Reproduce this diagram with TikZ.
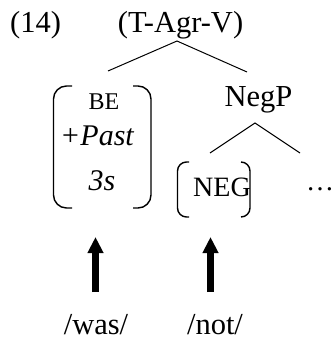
\documentclass[tikz,border=0pt]{standalone}
\usepackage{fontspec}
\setmainfont{Liberation Serif}
\usetikzlibrary{arrows.meta}
\tikzset{
  lbl/.style={inner sep=0pt, anchor=base},
  big/.style={font=\fontsize{30.5}{32}\selectfont},
  mid/.style={font=\fontsize{28}{30}\selectfont},
  small/.style={font=\fontsize{24}{26}\selectfont},
  ital/.style={font=\fontsize{30}{32}\selectfont\itshape},
  branch/.style={line width=1pt},
  brack/.style={line width=1.4pt, rounded corners=13pt},
  up/.style={line width=6.5pt, -{Triangle[width=15pt,length=16pt]}},
}
\begin{document}
\begin{tikzpicture}[x=1pt,y=-1pt]
\useasboundingbox (0,0) rectangle (335,343);
% labels
\node[lbl,big] (ex) at (35.5,32) {(14)};
\node[lbl,big] (root) at (180.5,32) {(T-Agr-V)};
\node[lbl,big] (negp) at (258.5,106) {NegP};
\node[lbl,small] (be) at (104,109) {BE};
\node[lbl,ital] (past) at (97,145) {+Past};
\node[lbl,ital] (third) at (102,190) {3s};
\node[lbl,mid] (neg) at (222,196) {NEG};
\node[lbl,mid] (dots) at (320,190) {…};
\node[lbl,big] (was) at (96,334) {/was/};
\node[lbl,big] (not) at (215,334) {/not/};
% tree branches
\coordinate (rtop) at (177,41);
\coordinate (rl) at (108,71);
\coordinate (rr) at (247,72);
\coordinate (ntop) at (255,123);
\coordinate (nl) at (210,153);
\coordinate (nr) at (300,153);
\draw[branch] (rl) -- (rtop) -- (rr);
\draw[branch] (nl) -- (ntop) -- (nr);
% brackets
\draw[brack] (72,86) -- (53.5,86) -- (53.5,208) -- (72,208);
\draw[brack] (133,86) -- (151,86) -- (151,208) -- (133,208);
\draw[brack,rounded corners=9pt] (189,162) -- (177.5,162) -- (177.5,217) -- (189,217);
\draw[brack,rounded corners=9pt] (241,162) -- (250,162) -- (250,217) -- (241,217);
% arrows
\coordinate (a1b) at (95.5,292);
\coordinate (a1t) at (95.5,237);
\coordinate (a2b) at (210.5,292);
\coordinate (a2t) at (210.5,237);
\draw[up] (a1b) -- (a1t);
\draw[up] (a2b) -- (a2t);
\end{tikzpicture}
\end{document}
